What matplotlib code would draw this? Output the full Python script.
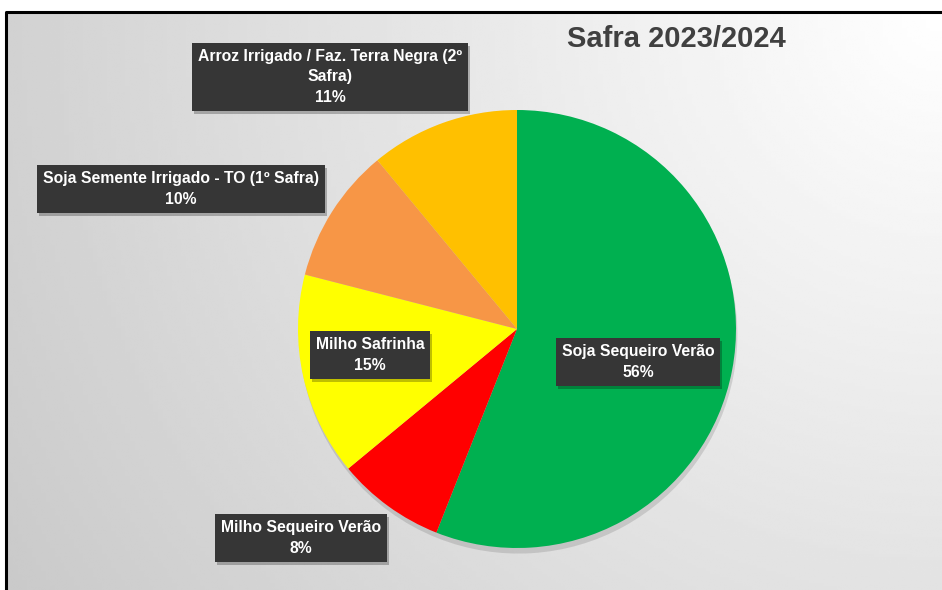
import textwrap
import numpy as np
import matplotlib.pyplot as plt
from matplotlib.patches import Rectangle

# Data
categorias = ['Soja Sequeiro Verão', 'Milho Sequeiro Verão', 'Milho Safrinha',
              'Soja Semente Irrigado - TO (1º Safra)',
              'Arroz Irrigado / Faz. Terra Negra (2º Safra)']
valores = [56, 8, 15, 10, 11]
cores = ['#00B050', '#FF0000', '#FFFF00', '#F79646', '#FFC000']
titulo = 'Safra 2023/2024'

# label box centres (pixel units, y up)
pos_rotulos = [(638, 228), (301, 52), (370, 235), (181, 401), (330, 513)]

W, H = 942, 590
fig = plt.figure(figsize=(W / 100, H / 100), dpi=100)
ax = fig.add_axes([0, 0, 1, 1])

# background gradient, light at top right
top, left = 578, 6
xx, yy = np.meshgrid(np.linspace(0, 1, 200), np.linspace(0, 1, 200))
d = np.sqrt(((1 - xx) * W) ** 2 + ((1 - yy) * H) ** 2) / np.hypot(W, H)
grad = 1 - 0.21 * d
ax.imshow(grad, cmap='gray', vmin=0, vmax=1, origin='lower',
          extent=[left, W, 0, top], zorder=0, interpolation='bilinear')
ax.plot([left, left, W], [0, top, top], color='black', lw=2.2, zorder=1)

ax.pie(valores, colors=cores, startangle=90, counterclock=False,
       center=(517, 261), radius=219, frame=True,
       shadow={'ox': 1, 'oy': -4, 'facecolor': 'black', 'edgecolor': 'none',
               'alpha': 0.12},
       wedgeprops={'zorder': 2})
ax.set_xlim(0, W)
ax.set_ylim(0, H)
ax.set_aspect('equal')
ax.axis('off')

total = sum(valores)
textos = []
for nome, v, (x, y) in zip(categorias, valores, pos_rotulos):
    txt = textwrap.fill(nome, 38) + f'\n{round(v / total * 100)}%'
    t = ax.text(x, y, txt, ha='center', va='center', color='white',
                fontsize=11.3, fontweight='bold', family='Liberation Sans',
                linespacing=1.45, zorder=5,
                bbox=dict(boxstyle='square,pad=0.38', fc='#363636', ec='none'))
    textos.append(t)

ax.text(676, H - 39, titulo, ha='center', va='center', color='#404040',
        fontsize=21, fontweight='bold', family='Liberation Sans', zorder=5)

# soft shadow under the label boxes
fig.canvas.draw()
inv = ax.transData.inverted()
for t in textos:
    bb = t.get_bbox_patch().get_window_extent()
    (x0, y0), (x1, y1) = inv.transform([[bb.x0, bb.y0], [bb.x1, bb.y1]])
    ax.add_patch(Rectangle((x0 + 2, y0 - 3), x1 - x0, y1 - y0,
                           fc='black', ec='none', alpha=0.25, zorder=4))

fig.savefig('out.png', dpi=100)
